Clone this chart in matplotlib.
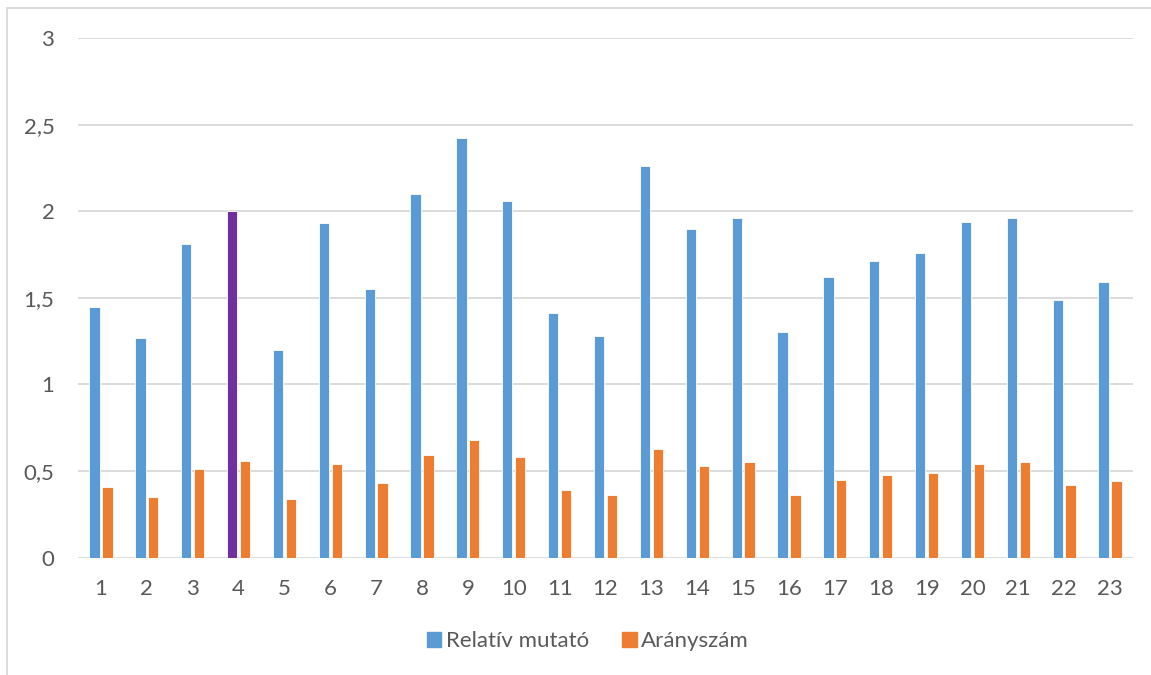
import matplotlib
matplotlib.use("Agg")

import matplotlib.pyplot as plt
from matplotlib.patches import Patch, Rectangle

# data
categories = [str(i) for i in range(1, 24)]
relativ = [1.45, 1.27, 1.81, 2.00, 1.20, 1.93, 1.55, 2.10, 2.42, 2.06, 1.41, 1.28,
           2.26, 1.90, 1.96, 1.30, 1.62, 1.71, 1.76, 1.94, 1.96, 1.49, 1.59]
aranyszam = [0.41, 0.35, 0.51, 0.56, 0.34, 0.54, 0.43, 0.59, 0.68, 0.58, 0.39, 0.36,
             0.63, 0.53, 0.55, 0.36, 0.45, 0.48, 0.49, 0.54, 0.55, 0.42, 0.44]
highlight = "4"
y_ticks = [0, 0.5, 1, 1.5, 2, 2.5, 3]
y_labels = ["0", "0,5", "1", "1,5", "2", "2,5", "3"]

blue = "#5B9BD5"
orange = "#ED7D31"
purple = "#7030A0"
text_col = "#595959"
grid_col = "#D9D9D9"

plt.rcParams["font.family"] = ["Lato", "DejaVu Sans"]

fig = plt.figure(figsize=(11.51, 6.75), dpi=100)
ax = fig.add_axes([78 / 1151, 1 - 557.7 / 675, (1133 - 78) / 1151, (557.7 - 38) / 675])

x = list(range(len(categories)))
w = 0.225
off = 0.14
blue_colors = [purple if c == highlight else blue for c in categories]
ax.bar([i - off for i in x], relativ, width=w, color=blue_colors,
       edgecolor="white", linewidth=0.6, zorder=3)
ax.bar([i + off for i in x], aranyszam, width=w, color=orange,
       edgecolor="white", linewidth=0.6, zorder=3)

ax.set_xlim(-0.5, len(categories) - 0.5)
ax.set_ylim(0, 3)
ax.set_xticks(x)
ax.set_xticklabels(categories)
ax.set_yticks(y_ticks)
ax.set_yticklabels(y_labels)
ax.yaxis.grid(True, color=grid_col, linewidth=1.3, zorder=0)
ax.tick_params(axis="both", length=0, labelsize=16, labelcolor=text_col)
ax.tick_params(axis="x", pad=15)
ax.tick_params(axis="y", pad=17)
for s in ax.spines.values():
    s.set_visible(False)

# chart area frame, partly cropped in the reference
fig.patches.append(Rectangle((7 / 1151, -0.1), 1.2, 1 - 8 / 675 + 0.1,
                             transform=fig.transFigure, fill=False,
                             edgecolor=grid_col, linewidth=1.3))

handles = [Patch(color=blue, label="Relatív mutató"),
           Patch(color=orange, label="Arányszám")]
fig.legend(handles=handles, loc="center", bbox_to_anchor=(588 / 1151, 1 - 641 / 675),
           ncol=2, frameon=False, fontsize=16, labelcolor=text_col,
           handlelength=0.65, handleheight=0.65, handletextpad=0.2, columnspacing=1.5)

fig.savefig("out.png", dpi=100)
